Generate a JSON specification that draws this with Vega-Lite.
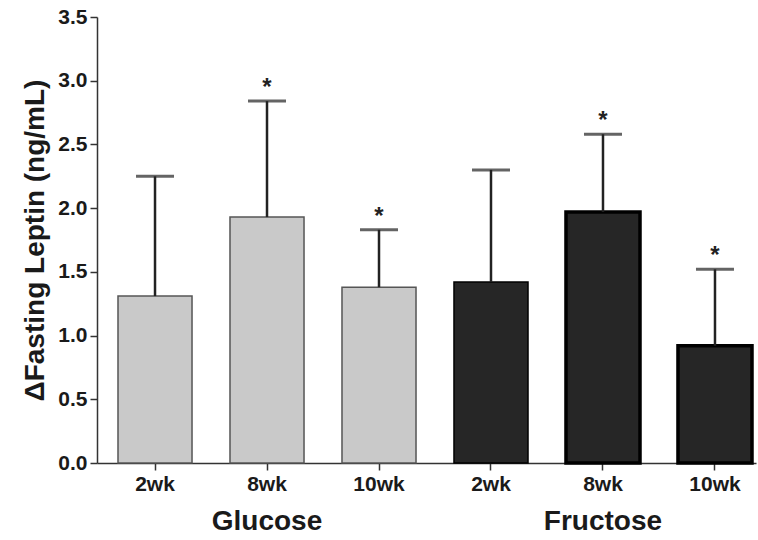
{
  "$schema": "https://vega.github.io/schema/vega-lite/v6.json",
  "width": 659,
  "height": 446,
  "autosize": "none",
  "padding": {"left": 97, "top": 17, "right": 2, "bottom": 77},
  "config": {
    "view": {"stroke": null},
    "font": "Liberation Sans",
    "axis": {"grid": false, "domainColor": "#333", "tickColor": "#333", "domainWidth": 1.5, "tickWidth": 1.5, "labelColor": "#1a1a1a", "titleColor": "#1a1a1a"}
  },
  "data": {
    "values": [
      {"bar": "Glucose 2wk", "group": "Glucose", "week": "2wk", "mean": 1.31, "upper": 2.25, "sig": ""},
      {"bar": "Glucose 8wk", "group": "Glucose", "week": "8wk", "mean": 1.93, "upper": 2.84, "sig": "*"},
      {"bar": "Glucose 10wk", "group": "Glucose", "week": "10wk", "mean": 1.38, "upper": 1.83, "sig": "*"},
      {"bar": "Fructose 2wk", "group": "Fructose", "week": "2wk", "mean": 1.42, "upper": 2.3, "sig": ""},
      {"bar": "Fructose 8wk", "group": "Fructose", "week": "8wk", "mean": 1.97, "upper": 2.58, "sig": "*"},
      {"bar": "Fructose 10wk", "group": "Fructose", "week": "10wk", "mean": 0.92, "upper": 1.52, "sig": "*"}
    ]
  },
  "layer": [
    {
      "mark": {"type": "bar"},
      "encoding": {
        "x": {
          "field": "bar", "type": "nominal", "sort": null,
          "scale": {"paddingInner": 0.339, "paddingOuter": 0.1116, "align": 0.84},
          "axis": {"title": null, "labelAngle": 0, "labelExpr": "split(datum.label, ' ')[1]", "labelFontSize": 21, "labelFontWeight": "bold", "tickSize": 7, "labelPadding": 3}
        },
        "y": {
          "field": "mean", "type": "quantitative",
          "scale": {"domain": [0, 3.5], "nice": false},
          "axis": {"title": "ΔFasting Leptin (ng/mL)", "values": [0, 0.5, 1, 1.5, 2, 2.5, 3, 3.5], "format": ".1f", "labelFontSize": 21, "labelFontWeight": "bold", "titleFontSize": 28, "titleFontWeight": "bold", "tickSize": 7, "labelPadding": 3, "titlePadding": 8}
        },
        "fill": {"field": "group", "type": "nominal", "scale": {"domain": ["Glucose", "Fructose"], "range": ["#c9c9c9", "#262626"]}, "legend": null},
        "stroke": {"field": "group", "type": "nominal", "scale": {"domain": ["Glucose", "Fructose"], "range": ["#555555", "#000000"]}, "legend": null},
        "strokeWidth": {"condition": {"test": "datum.group == 'Fructose' && datum.sig == '*'", "value": 3.5}, "value": 1.5}
      }
    },
    {
      "mark": {"type": "rule", "color": "#222", "strokeWidth": 2.5},
      "encoding": {
        "x": {"field": "bar", "type": "nominal", "sort": null, "axis": null},
        "y": {"field": "upper", "type": "quantitative"},
        "y2": {"field": "mean"}
      }
    },
    {
      "mark": {"type": "tick", "color": "#222", "thickness": 3, "size": 38, "orient": "horizontal"},
      "encoding": {
        "x": {"field": "bar", "type": "nominal", "sort": null, "axis": null},
        "y": {"field": "upper", "type": "quantitative"}
      }
    },
    {
      "mark": {"type": "text", "fontSize": 24, "fontWeight": "bold", "color": "#222", "baseline": "middle", "dy": -13},
      "encoding": {
        "x": {"field": "bar", "type": "nominal", "sort": null, "axis": null},
        "y": {"field": "upper", "type": "quantitative"},
        "text": {"field": "sig"}
      }
    },
    {
      "mark": {"type": "tick", "opacity": 0},
      "encoding": {
        "x": {
          "field": "bar", "type": "nominal", "sort": null,
          "axis": {"orient": "bottom", "offset": 42, "title": null, "domain": false, "ticks": false, "labelAngle": 0, "labelDx": -3, "labelFontSize": 28, "labelFontWeight": "bold", "labelExpr": "datum.label == 'Glucose 8wk' ? 'Glucose' : (datum.label == 'Fructose 8wk' ? 'Fructose' : '')"}
        },
        "y": {"field": "mean", "type": "quantitative"}
      }
    }
  ],
  "resolve": {"axis": {"x": "independent"}}
}
